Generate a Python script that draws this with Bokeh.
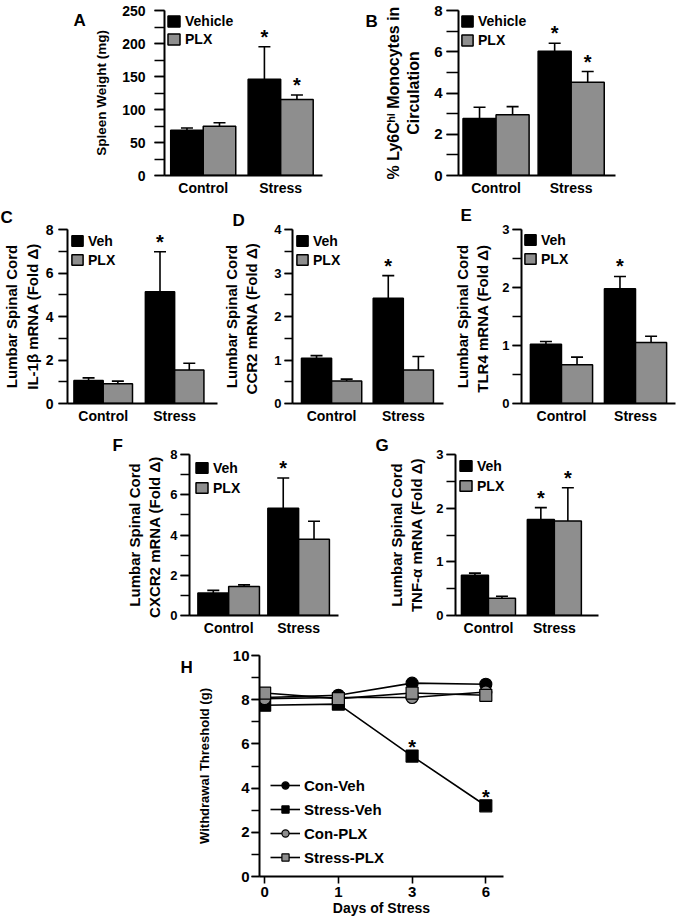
import numpy as np
from bokeh.plotting import figure
from bokeh.models import (Range1d, SingleIntervalTicker, FixedTicker, Legend, LegendItem,
                          Whisker, TeeHead, ColumnDataSource, Spacer, Title)
from bokeh.layouts import row, column
from bokeh.embed import file_html
from bokeh.resources import INLINE
from bokeh.core.properties import value

FONT = "Liberation Sans"
BLACK = "#000000"
GRAY = "#8e8e8e"

groups = ["Control", "Stress"]

# ---------------- data ----------------
a_veh = [68.5, 146.0]
a_veh_err = [3.5, 49.0]
a_plx = [74.5, 115.0]
a_plx_err = [5.5, 7.0]
a_sig_veh = [False, True]
a_sig_plx = [False, True]

b_veh = [2.76, 6.03]
b_veh_err = [0.55, 0.38]
b_plx = [2.94, 4.52]
b_plx_err = [0.40, 0.52]
b_sig_veh = [False, True]
b_sig_plx = [False, True]

c_veh = [1.06, 5.14]
c_veh_err = [0.12, 1.84]
c_plx = [0.91, 1.54]
c_plx_err = [0.12, 0.31]
c_sig_veh = [False, True]
c_sig_plx = [False, False]

d_veh = [1.04, 2.42]
d_veh_err = [0.06, 0.52]
d_plx = [0.52, 0.77]
d_plx_err = [0.04, 0.31]
d_sig_veh = [False, True]
d_sig_plx = [False, False]

e_veh = [1.02, 1.98]
e_veh_err = [0.05, 0.21]
e_plx = [0.67, 1.05]
e_plx_err = [0.13, 0.11]
e_sig_veh = [False, True]
e_sig_plx = [False, False]

f_veh = [1.12, 5.33]
f_veh_err = [0.13, 1.50]
f_plx = [1.44, 3.79]
f_plx_err = [0.08, 0.89]
f_sig_veh = [False, True]
f_sig_plx = [False, False]

g_veh = [0.75, 1.79]
g_veh_err = [0.04, 0.22]
g_plx = [0.32, 1.76]
g_plx_err = [0.04, 0.62]
g_sig_veh = [False, True]
g_sig_plx = [False, True]

days = ["0", "1", "3", "6"]
h_con_veh = [8.1, 8.2, 8.75, 8.7]
h_stress_veh = [7.75, 7.8, 5.45, 3.2]
h_con_plx = [8.05, 8.1, 8.1, 8.35]
h_stress_plx = [8.3, 8.05, 8.3, 8.2]
h_sig_stress_veh = [False, False, True, True]


def base_fig(W, H, borders, xr, yr):
    fl, fr, ft, fb = borders
    p = figure(width=W, height=H, output_backend="svg", toolbar_location=None,
               x_range=Range1d(*xr), y_range=Range1d(*yr),
               min_border_left=fl, min_border_right=fr, min_border_top=ft, min_border_bottom=fb)
    p.title = None
    p.outline_line_color = None
    p.xgrid.visible = False
    p.ygrid.visible = False
    p.background_fill_color = "white"
    p.border_fill_color = "white"
    return p


def letter_fig(W, H, letter, cx, cy):
    # canvas-pixel coordinate system (y downwards) for a panel letter
    p = figure(width=W, height=H, output_backend="svg", toolbar_location=None,
               x_range=Range1d(0, W), y_range=Range1d(H, 0), x_axis_location=None,
               y_axis_location=None, min_border_left=0, min_border_right=0,
               min_border_top=0, min_border_bottom=0)
    p.title = None
    p.outline_line_color = None
    p.grid.visible = False
    src = ColumnDataSource(dict(x=[cx], y=[cy], t=[letter]))
    p.text(x="x", y="y", text="t", source=src, text_font=value(FONT), text_font_style="bold",
           text_font_size="17px", text_baseline="top", text_align="left", text_color=BLACK)
    return p


def title_letter(p, letter, offset, standoff):
    p.title = Title(text=letter, align="left", offset=offset, standoff=standoff,
                    vertical_align="bottom", text_font=FONT, text_font_style="bold",
                    text_font_size="17px", text_color=BLACK)


def add_stars(p, xs, ys, dy):
    src = ColumnDataSource(dict(x=[float(v) for v in xs], y=[float(v) for v in ys],
                                t=["*"] * len(xs)))
    p.text(x="x", y="y", text="t", source=src, text_font=value(FONT), text_font_style="bold",
           text_font_size="20px", text_align="center", text_baseline="alphabetic",
           y_offset=dy, text_color=BLACK)


def style_yaxis(p, interval, tick_out, tick_font, tick_standoff, label, label_font, label_standoff):
    ax = p.yaxis[0]
    ax.ticker = SingleIntervalTicker(interval=interval, num_minor_ticks=2)
    ax.axis_line_width = 2
    ax.axis_line_color = BLACK
    ax.major_tick_out = tick_out
    ax.major_tick_in = 0
    ax.minor_tick_out = tick_out
    ax.minor_tick_in = 0
    ax.major_tick_line_width = 1.6
    ax.minor_tick_line_width = 1.6
    ax.major_tick_line_color = BLACK
    ax.minor_tick_line_color = BLACK
    ax.major_label_text_font = FONT
    ax.major_label_text_font_style = "bold"
    ax.major_label_text_font_size = tick_font
    ax.major_label_text_color = BLACK
    ax.major_label_standoff = tick_standoff
    ax.axis_label = label
    ax.axis_label_text_font = FONT
    ax.axis_label_text_font_style = "bold"
    ax.axis_label_text_font_size = label_font
    ax.axis_label_text_color = BLACK
    ax.axis_label_standoff = label_standoff


def bar_panel(cfg):
    W, H = cfg["size"]
    borders = cfg["borders"]
    p = base_fig(W, H, borders, cfg["xr"], (0, cfg["ymax"]))
    xs = np.arange(len(groups)) + 0.5
    bw = cfg["bw"]
    renderers = []
    for vals, errs, sig, fill, off in [(cfg["veh"], cfg["veh_err"], cfg["sig_veh"], BLACK, -bw / 2),
                                       (cfg["plx"], cfg["plx_err"], cfg["sig_plx"], GRAY, bw / 2)]:
        vals = np.array(vals)
        upper = vals + np.array(errs)
        src = ColumnDataSource(dict(x=xs + off, top=vals, upper=upper))
        r = p.vbar(x="x", top="top", width=bw, source=src, fill_color=fill,
                   line_color=BLACK, line_width=1.5)
        renderers.append(r)
        wk = Whisker(source=src, base="x", upper="upper", lower="top", dimension="height",
                     line_color=BLACK, line_width=1.6,
                     upper_head=TeeHead(size=12, line_color=BLACK, line_width=1.6),
                     lower_head=None)
        p.add_layout(wk)
        sx = [x for x, s in zip(xs + off, sig) if s]
        sy = [u for u, s in zip(upper, sig) if s]
        if sx:
            add_stars(p, sx, sy, -10)
    style_yaxis(p, cfg["interval"], cfg["tick_out"], cfg["tick_font"], cfg["tick_standoff"],
                cfg["ylabel"], cfg["label_font"], cfg["label_standoff"])
    xa = p.xaxis[0]
    xa.ticker = FixedTicker(ticks=[float(x) for x in xs], minor_ticks=[])
    xa.major_label_overrides = {float(x): g for x, g in zip(xs, groups)}
    xa.axis_line_width = 2
    xa.axis_line_color = BLACK
    xa.major_tick_out = 0
    xa.major_tick_in = 0
    xa.minor_tick_out = 0
    xa.minor_tick_in = 0
    xa.major_label_text_font = FONT
    xa.major_label_text_font_style = "bold"
    xa.major_label_text_font_size = "14px"
    xa.major_label_text_color = BLACK
    xa.major_label_standoff = 4
    pad, gw, gh, sp = cfg["legend"]
    leg = Legend(items=[LegendItem(label=cfg["names"][0], renderers=[renderers[0]]),
                        LegendItem(label=cfg["names"][1], renderers=[renderers[1]])],
                 location="top_left", padding=pad, margin=0, spacing=sp,
                 glyph_width=gw, glyph_height=gh, label_height=17, label_standoff=4,
                 label_text_font=FONT, label_text_font_style="bold", label_text_font_size="14px",
                 label_text_color=BLACK, background_fill_alpha=0, border_line_alpha=0)
    p.add_layout(leg)
    if "title" in cfg:
        title_letter(p, *cfg["title"])
    return p


pA = bar_panel(dict(size=(242, 198), borders=(76, 8, 10, 22), xr=(0, 2.04), ymax=250, bw=0.42,
                    veh=a_veh, veh_err=a_veh_err, plx=a_plx, plx_err=a_plx_err,
                    sig_veh=a_sig_veh, sig_plx=a_sig_plx, interval=50, tick_out=10, tick_font="14px",
                    tick_standoff=9, ylabel="Spleen Weight (mg)", label_font="13.5px",
                    label_standoff=10, legend=(2, 15, 14, 1), names=["Vehicle", "PLX"]))

pB = bar_panel(dict(size=(298, 198), borders=(78, 63, 7, 21), xr=(0, 2.09), ymax=8, bw=0.44,
                    veh=b_veh, veh_err=b_veh_err, plx=b_plx, plx_err=b_plx_err,
                    sig_veh=b_sig_veh, sig_plx=b_sig_plx, interval=2, tick_out=12, tick_font="15px",
                    tick_standoff=4, ylabel="% Ly6C\u02b0\u2071 Monocytes in\nCirculation",
                    label_font="16px", label_standoff=9, legend=(2, 14, 14, 2),
                    names=["Vehicle", "PLX"]))

pC = bar_panel(dict(size=(219, 230), borders=(63, 2, 31, 25), xr=(0, 2.1), ymax=8, bw=0.41,
                    veh=c_veh, veh_err=c_veh_err, plx=c_plx, plx_err=c_plx_err,
                    sig_veh=c_sig_veh, sig_plx=c_sig_plx, interval=2, tick_out=9, tick_font="14px",
                    tick_standoff=5, ylabel="Lumbar Spinal Cord\nIL-1\u03b2 mRNA (Fold \u0394)",
                    label_font="15px", label_standoff=2, legend=(3, 14, 13, 2),
                    names=["Veh", "PLX"], title=("C", -67, 5)))

pD = bar_panel(dict(size=(231, 230), borders=(69, 7, 31, 25), xr=(-0.045, 2.06), ymax=4, bw=0.42,
                    veh=d_veh, veh_err=d_veh_err, plx=d_plx, plx_err=d_plx_err,
                    sig_veh=d_sig_veh, sig_plx=d_sig_plx, interval=1, tick_out=8, tick_font="13px",
                    tick_standoff=3, ylabel="Lumbar Spinal Cord\nCCR2 mRNA  (Fold \u0394)",
                    label_font="15px", label_standoff=11, legend=(3, 14, 13, 2),
                    names=["Veh", "PLX"], title=("D", -60, 0)))

pE = bar_panel(dict(size=(228, 230), borders=(68, 3, 31, 25), xr=(-0.04, 2.04), ymax=3, bw=0.42,
                    veh=e_veh, veh_err=e_veh_err, plx=e_plx, plx_err=e_plx_err,
                    sig_veh=e_sig_veh, sig_plx=e_sig_plx, interval=1, tick_out=9, tick_font="13px",
                    tick_standoff=3, ylabel="Lumbar Spinal Cord\nTLR4 mRNA  (Fold \u0394)",
                    label_font="15px", label_standoff=8, legend=(2, 14, 13, 2),
                    names=["Veh", "PLX"], title=("E", -61, 9)))

pF = bar_panel(dict(size=(252, 212), borders=(81, 22, 26, 21), xr=(-0.06, 2.07), ymax=8, bw=0.44,
                    veh=f_veh, veh_err=f_veh_err, plx=f_plx, plx_err=f_plx_err,
                    sig_veh=f_sig_veh, sig_plx=f_sig_plx, interval=2, tick_out=9, tick_font="13px",
                    tick_standoff=3, ylabel="Lumbar Spinal Cord\nCXCR2 mRNA  (Fold \u0394)",
                    label_font="15px", label_standoff=4, legend=(5, 15, 13, 3),
                    names=["Veh", "PLX"], title=("F", -77, 0)))

pG = bar_panel(dict(size=(260, 212), borders=(95, 22, 26, 25), xr=(0, 2.17), ymax=3, bw=0.41,
                    veh=g_veh, veh_err=g_veh_err, plx=g_plx, plx_err=g_plx_err,
                    sig_veh=g_sig_veh, sig_plx=g_sig_plx, interval=1, tick_out=9, tick_font="13px",
                    tick_standoff=3, ylabel="Lumbar Spinal Cord\nTNF-\u03b1 mRNA (Fold \u0394)",
                    label_font="15px", label_standoff=8, legend=(3, 15, 13, 3),
                    names=["Veh", "PLX"], title=("G", -80, 0)))

# ---------------- panel H ----------------
hW, hH = 338, 280
hb = (67, 27, 15, 44)
pH = base_fig(hW, hH, hb, (-0.07, 3.24), (0, 10))
idx = [float(i) for i in range(len(days))]
series = [("Con-Veh", h_con_veh, "circle", BLACK),
          ("Stress-Veh", h_stress_veh, "square", BLACK),
          ("Con-PLX", h_con_plx, "circle", GRAY),
          ("Stress-PLX", h_stress_plx, "square", GRAY)]
line_rs = []
for name, vals, mk, fill in series:
    line_rs.append(pH.line(idx, vals, line_color=BLACK, line_width=1.6))
items = []
for (name, vals, mk, fill), lr in zip(series, line_rs):
    sr = pH.scatter(idx, vals, marker=mk, size=12, fill_color=fill, line_color=BLACK, line_width=1.2)
    items.append(LegendItem(label=name, renderers=[lr, sr]))
add_stars(pH, [i for i, s in zip(idx, h_sig_stress_veh) if s],
          [v for v, s in zip(h_stress_veh, h_sig_stress_veh) if s], -9)
style_yaxis(pH, 2, 8, "15px", 2, "Withdrawal Threshold (g)", "13px", 18)
xh = pH.xaxis[0]
xh.ticker = FixedTicker(ticks=idx, minor_ticks=[])
xh.major_label_overrides = {i: d for i, d in zip(idx, days)}
xh.axis_line_width = 2
xh.axis_line_color = BLACK
xh.major_tick_out = 7
xh.major_tick_in = 0
xh.major_tick_line_width = 1.6
xh.major_tick_line_color = BLACK
xh.major_label_text_font = FONT
xh.major_label_text_font_style = "bold"
xh.major_label_text_font_size = "15px"
xh.major_label_text_color = BLACK
xh.major_label_standoff = 3
xh.axis_label = "Days of Stress"
xh.axis_label_text_font = FONT
xh.axis_label_text_font_style = "bold"
xh.axis_label_text_font_size = "14px"
xh.axis_label_text_color = BLACK
xh.axis_label_standoff = 0
legH = Legend(items=items, location=(11, 10), padding=0, margin=0, spacing=6,
              glyph_width=30, glyph_height=18, label_height=18, label_standoff=4,
              label_text_font=FONT, label_text_font_style="bold", label_text_font_size="15px",
              label_text_color=BLACK, background_fill_alpha=0, border_line_alpha=0)
pH.add_layout(legH)

lA = letter_fig(88, 198, "A", 73, 1)
lB = letter_fig(50, 198, "B", 35, 2)
lH = letter_fig(22, 280, "H", 10, 3)

layout = column(
    row(lA, pA, lB, pB),
    row(pC, pD, pE),
    row(Spacer(width=108, height=212), pF, pG),
    row(Spacer(width=170, height=280), lH, pH),
)

open("out.html", "w").write(file_html(layout, INLINE))
